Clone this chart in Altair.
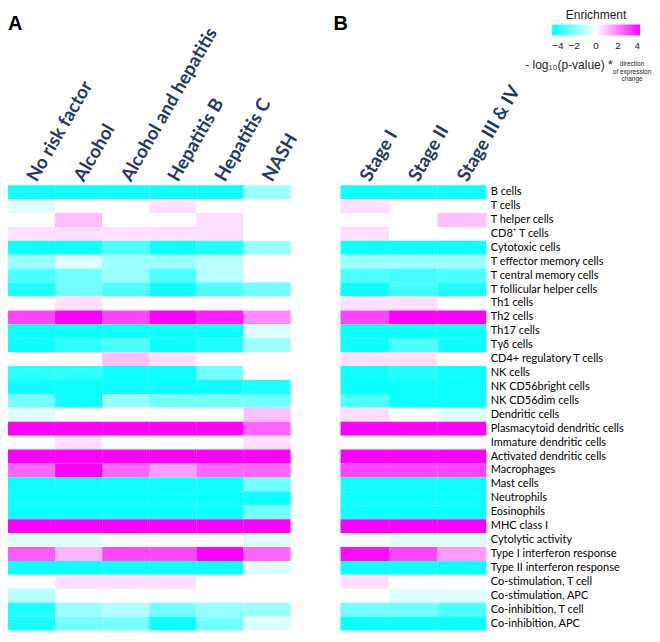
import altair as alt
import pandas as pd

rows = ["B cells", "T cells", "T helper cells", "CD8⁺ T cells", "Cytotoxic cells",
        "T effector memory cells", "T central memory cells", "T follicular helper cells",
        "Th1 cells", "Th2 cells", "Th17 cells", "Tγδ cells", "CD4+ regulatory T cells",
        "NK cells", "NK CD56bright cells", "NK CD56dim cells", "Dendritic cells",
        "Plasmacytoid dendritic cells", "Immature dendritic cells", "Activated dendritic cells",
        "Macrophages", "Mast cells", "Neutrophils", "Eosinophils", "MHC class I",
        "Cytolytic activity", "Type I interferon response", "Type II interferon response",
        "Co-stimulation, T cell", "Co-stimulation, APC", "Co-inhibition, T cell",
        "Co-inhibition, APC"]

cols_a = ["No risk factor", "Alcohol", "Alcohol and hepatitis", "Hepatitis B", "Hepatitis C", "NASH"]
cols_b = ["Stage I", "Stage II", "Stage III & IV"]

no_risk = [-3.8, -0.5, 0, 0.5, -3.8, -1.6, -2.8, -3.5, 0, 2.9, -3.8, -3.8, 0, -3.3, -3.8, -2.2,
           -0.5, 4, 0, 4, 2.4, -3.8, -3.8, -3.8, 4, -0.5, 2.6, -3.8, 0, -1.1, -3.5, -3.6]
alcohol = [-3.8, 0, 1.0, 0.5, -3.8, -0.5, -2.2, -2.2, 0.5, 4, -3.8, -3.3, 0, -3.3, -3.8, -3.8,
           0, 4, 0.5, 4, 4, -3.8, -3.8, -3.8, 4, -0.5, 1.2, -3.8, 0.5, 0, -1.6, -2.2]
alc_hep = [-3.8, 0, 0, 0.5, -2.8, -1.6, -1.6, -2.8, 0, 2.9, -3.8, -2.8, 1.0, -3.8, -3.8, -1.6,
           0, 4, 0, 4, 2.4, -3.8, -3.8, -3.8, 4, 0, 2.9, -3.8, 0.5, 0, -1.2, -2.1]
hep_b = [-3.8, 0.5, 0, 0.5, -3.8, -1.6, -2.8, -3.8, 0, 4, -3.8, -3.8, 0.5, -3.8, -3.8, -2.2,
         0, 4, 0, 4, 1.6, -3.8, -3.8, -3.8, 4, 0, 2.9, -3.8, 0.5, 0, -2.2, -3.8]
hep_c = [-3.8, 0, 0.5, 0.5, -3.5, -1.1, -1.1, -2.8, 0, 3.5, -3.8, -3.5, 0, -2.2, -3.8, -2.2,
         0, 4, 0, 4, 2.4, -3.8, -3.8, -3.8, 4, 0, 4, -3.8, 0, 0, -1.7, -2.2]
nash = [-1.6, 0, 0, 0, -1.6, 0, 0, -2.2, 0, 1.8, -0.5, -1.6, 0, 0, -3.5, -2.2,
        1.0, 2.4, 0.5, 4, 2.4, -2.2, -3.8, -2.2, 4, -0.5, 2.4, -0.5, 0, 0, -1.6, -0.5]

stage1 = [-3.8, 0.5, 0, 0.5, -3.8, -1.6, -2.8, -3.8, 0.5, 2.9, -3.8, -3.8, 0.5, -3.8, -3.8, -2.8,
          0.5, 4, 0, 4, 2.9, -3.8, -3.8, -3.8, 4, 0, 3.8, -3.8, 0.5, 0, -2.2, -3.8]
stage2 = [-3.8, 0, 0, 0, -3.8, -1.6, -3.0, -3.0, 0.5, 4, -3.8, -2.8, 0.5, -3.5, -3.8, -3.8,
          0, 4, 0, 4, 2.9, -3.8, -3.8, -3.8, 4, -0.5, 2.9, -3.8, 0, -0.5, -2.2, -3.8]
stage34 = [-3.8, 0, 1.0, 0, -3.8, -1.6, -2.8, -3.5, 0, 4, -3.8, -3.8, 0, -3.8, -3.8, -3.8,
           -0.5, 4, 0, 4, 2.9, -3.8, -3.8, -3.8, 4, -0.5, 1.6, -3.8, 0, -0.5, -2.8, -3.8]

legend_ticks = [-4, -2, 0, 2, 4]

series_a = dict(zip(cols_a, [no_risk, alcohol, alc_hep, hep_b, hep_c, nash]))
series_b = dict(zip(cols_b, [stage1, stage2, stage34]))

def long(series):
    recs = []
    for c, vals in series.items():
        for r, v in zip(rows, vals):
            recs.append({"col": c, "row": r, "value": v})
    return pd.DataFrame(recs)

df_a = long(series_a)
df_b = long(series_b)

W_A = 283
W_B = 146
H = 446
HEAD = "#1F3864"
TXT = "#222222"

def color_scale():
    return alt.Scale(type="linear", domain=[-4, 4], domainMid=0,
                     range=["#00ffff", "#ffffff", "#ff00ff"],
                     interpolate="rgb", clamp=True, nice=False, zero=False)

legend = alt.Legend(
    title="Enrichment", orient="none", direction="horizontal",
    legendX=212, legendY=-175,
    gradientLength=88, gradientThickness=11, gradientStrokeWidth=0,
    values=legend_ticks, labelFontSize=10, labelFont="Liberation Sans",
    labelColor=TXT, labelOffset=6,
    titleFont="Liberation Sans", titleFontSize=12, titleFontWeight="normal",
    titleColor=TXT, titleAnchor="middle", titlePadding=2,
)

head_axis = dict(orient="top", labelAngle=300, labelAlign="left", labelBaseline="middle",
                 labelFont="Lato", labelFontWeight="bold", labelFontSize=18.5,
                 labelColor=HEAD, ticks=False, domain=False, labelPadding=6,
                 title=None, labelLimit=0)

heat_a = alt.Chart(df_a).mark_rect().encode(
    x=alt.X("col:N", sort=cols_a, axis=alt.Axis(**head_axis)),
    y=alt.Y("row:N", sort=rows, axis=None),
    color=alt.Color("value:Q", scale=color_scale(), legend=None),
)

letter_a = alt.Chart(pd.DataFrame({"t": ["A"]})).mark_text(
    align="left", baseline="alphabetic", font="Liberation Sans", fontWeight="bold",
    fontSize=20, color="black"
).encode(text="t:N", x=alt.value(0), y=alt.value(-155))

panel_a = alt.layer(heat_a, letter_a).properties(width=W_A, height=H)

heat_b = alt.Chart(df_b).mark_rect().encode(
    x=alt.X("col:N", sort=cols_b, axis=alt.Axis(**head_axis)),
    y=alt.Y("row:N", sort=rows, axis=alt.Axis(orient="right", ticks=False, domain=False,
                                              labelFont="Lato", labelFontSize=11,
                                              labelColor="black", labelPadding=4,
                                              title=None, labelLimit=0)),
    color=alt.Color("value:Q", scale=color_scale(), legend=legend),
)

letter_b = alt.Chart(pd.DataFrame({"t": ["B"]})).mark_text(
    align="left", baseline="alphabetic", font="Liberation Sans", fontWeight="bold",
    fontSize=20, color="black"
).encode(text="t:N", x=alt.value(-7), y=alt.value(-155))

expr_main = alt.Chart(pd.DataFrame({"t": ["- log₁₀(p-value) *"]})).mark_text(
    align="left", baseline="middle", font="Liberation Sans", fontSize=12, color=TXT
).encode(text="t:N", x=alt.value(185), y=alt.value(-120))

expr_small = alt.Chart(pd.DataFrame({"t": ["direction\nof expression\nchange"]})).mark_text(
    align="center", baseline="middle", font="Liberation Sans", fontSize=6.5, color=TXT,
    lineBreak="\n", lineHeight=7.5
).encode(text="t:N", x=alt.value(292), y=alt.value(-121))

panel_b = alt.layer(heat_b, letter_b, expr_main, expr_small).properties(width=W_B, height=H)

chart = alt.hconcat(panel_a, panel_b, spacing=50, bounds="flush").resolve_scale(
    color="independent"
).properties(
    padding={"left": 0, "top": 2, "right": 0, "bottom": 0}
).configure_view(stroke=None)

chart.save("out.html", embed_options={"renderer": "svg", "actions": False})
